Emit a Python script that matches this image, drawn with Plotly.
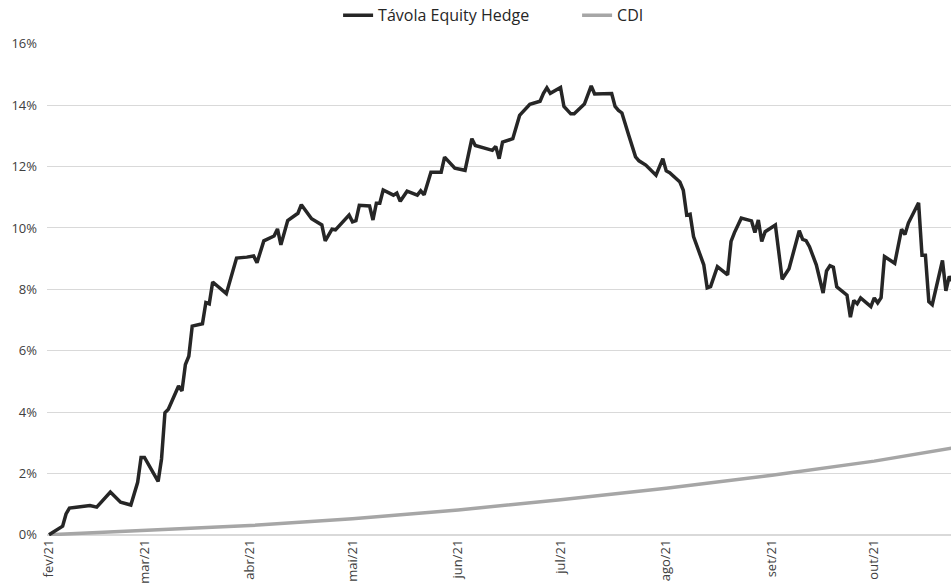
import plotly.graph_objects as go

# Távola Equity Hedge – cumulative return (vertices)
tavola_dates = [
    "2021-02-01", "2021-02-03", "2021-02-05", "2021-02-06", "2021-02-07", "2021-02-09",
    "2021-02-13", "2021-02-15", "2021-02-19", "2021-02-22", "2021-02-25", "2021-02-27",
    "2021-02-28", "2021-03-01", "2021-03-05", "2021-03-06", "2021-03-07", "2021-03-08",
    "2021-03-11", "2021-03-12", "2021-03-13", "2021-03-14", "2021-03-15", "2021-03-18",
    "2021-03-19", "2021-03-20", "2021-03-21", "2021-03-25", "2021-03-28", "2021-03-31",
    "2021-04-02", "2021-04-03", "2021-04-05", "2021-04-08", "2021-04-09", "2021-04-10",
    "2021-04-12", "2021-04-15", "2021-04-16", "2021-04-19", "2021-04-22", "2021-04-23",
    "2021-04-25", "2021-04-26", "2021-04-30", "2021-05-01", "2021-05-02", "2021-05-03",
    "2021-05-06", "2021-05-07", "2021-05-08", "2021-05-09", "2021-05-10", "2021-05-13",
    "2021-05-14", "2021-05-15", "2021-05-17", "2021-05-20", "2021-05-21", "2021-05-22",
    "2021-05-24", "2021-05-27", "2021-05-28", "2021-05-31", "2021-06-03", "2021-06-05",
    "2021-06-06", "2021-06-11", "2021-06-12", "2021-06-13", "2021-06-14", "2021-06-17",
    "2021-06-19", "2021-06-22", "2021-06-25", "2021-06-26", "2021-06-27", "2021-06-28",
    "2021-07-01", "2021-07-02", "2021-07-04", "2021-07-05", "2021-07-08", "2021-07-10",
    "2021-07-11", "2021-07-16", "2021-07-17", "2021-07-18", "2021-07-19", "2021-07-21",
    "2021-07-23", "2021-07-24", "2021-07-26", "2021-07-29", "2021-07-31", "2021-08-01",
    "2021-08-02", "2021-08-05", "2021-08-06", "2021-08-07", "2021-08-08", "2021-08-09",
    "2021-08-12", "2021-08-13", "2021-08-14", "2021-08-16", "2021-08-19", "2021-08-20",
    "2021-08-21", "2021-08-23", "2021-08-26", "2021-08-27", "2021-08-28", "2021-08-29",
    "2021-08-30", "2021-09-02", "2021-09-04", "2021-09-06", "2021-09-09", "2021-09-10",
    "2021-09-11", "2021-09-12", "2021-09-14", "2021-09-16", "2021-09-17", "2021-09-18",
    "2021-09-19", "2021-09-20", "2021-09-23", "2021-09-24", "2021-09-25", "2021-09-26",
    "2021-09-27", "2021-09-30", "2021-10-01", "2021-10-02", "2021-10-03", "2021-10-04",
    "2021-10-07", "2021-10-09", "2021-10-10", "2021-10-11", "2021-10-14", "2021-10-15",
    "2021-10-16", "2021-10-17", "2021-10-18", "2021-10-21", "2021-10-22", "2021-10-23",
    "2021-10-24",
]
tavola_pct = [
    0.00, 0.14, 0.28, 0.68, 0.87, 0.90,
    0.95, 0.90, 1.39, 1.06, 0.97, 1.71,
    2.52, 2.52, 1.74, 2.47, 3.98, 4.09,
    4.85, 4.69, 5.55, 5.82, 6.80, 6.88,
    7.57, 7.53, 8.24, 7.86, 9.02, 9.05,
    9.09, 8.87, 9.58, 9.74, 9.97, 9.45,
    10.24, 10.48, 10.76, 10.30, 10.10, 9.58,
    9.96, 9.94, 10.42, 10.20, 10.24, 10.74,
    10.72, 10.26, 10.81, 10.81, 11.24, 11.07,
    11.14, 10.87, 11.20, 11.07, 11.21, 11.08,
    11.82, 11.82, 12.31, 11.95, 11.88, 12.91,
    12.69, 12.53, 12.66, 12.26, 12.80, 12.91,
    13.67, 14.03, 14.13, 14.39, 14.57, 14.39,
    14.58, 13.96, 13.72, 13.72, 14.04, 14.63,
    14.37, 14.38, 13.96, 13.83, 13.75, 13.02,
    12.32, 12.19, 12.05, 11.72, 12.26, 11.86,
    11.80, 11.50, 11.23, 10.42, 10.45, 9.72,
    8.80, 8.05, 8.09, 8.74, 8.47, 9.56,
    9.85, 10.32, 10.23, 9.85, 10.26, 9.56,
    9.88, 10.10, 8.33, 8.67, 9.91, 9.63,
    9.59, 9.39, 8.80, 7.88, 8.60, 8.77,
    8.72, 8.08, 7.81, 7.09, 7.64, 7.53,
    7.72, 7.44, 7.72, 7.56, 7.73, 9.07,
    8.85, 9.96, 9.79, 10.16, 10.82, 9.11,
    9.11, 7.60, 7.50, 8.94, 7.95, 8.42,
    8.25,
]

# CDI – cumulative return
cdi_dates = ["2021-02-01", "2021-03-01", "2021-04-01", "2021-05-01", "2021-06-01",
             "2021-07-01", "2021-08-01", "2021-09-01", "2021-10-01", "2021-10-24"]
cdi_pct = [0.00, 0.13, 0.30, 0.52, 0.81, 1.14, 1.52, 1.94, 2.40, 2.83]

tick_dates = ["2021-02-01", "2021-03-01", "2021-04-01", "2021-05-01", "2021-06-01",
              "2021-07-01", "2021-08-01", "2021-09-01", "2021-10-01"]
tick_labels = ["fev/21", "mar/21", "abr/21", "mai/21", "jun/21",
               "jul/21", "ago/21", "set/21", "out/21"]

y_ticks = [0, 0.02, 0.04, 0.06, 0.08, 0.10, 0.12, 0.14, 0.16]
y_labels = ["0%", "2%", "4%", "6%", "8%", "10%", "12%", "14%", "16%"]

fig = go.Figure()
fig.add_trace(go.Scatter(
    x=tavola_dates, y=[v / 100 for v in tavola_pct], name="Távola Equity Hedge",
    mode="lines", line=dict(color="#262626", width=3.5),
))
fig.add_trace(go.Scatter(
    x=cdi_dates, y=[v / 100 for v in cdi_pct], name="CDI", mode="lines",
    line=dict(color="#a6a6a6", width=3.5),
))
# draw the fund line above CDI
fig.data = (fig.data[1], fig.data[0])

fig.update_layout(
    width=951, height=586,
    margin=dict(l=47, r=0, t=43, b=50),
    plot_bgcolor="white", paper_bgcolor="white",
    font=dict(family="Open Sans", size=13, color="#404040"),
    showlegend=True,
    legend=dict(orientation="h", x=0.322, xanchor="left", y=0.974, yanchor="middle",
                yref="container", font=dict(size=16, color="#262626"),
                itemwidth=30, traceorder="reversed",
                entrywidth=194, entrywidthmode="pixels"),
    xaxis=dict(
        type="date", range=["2021-01-31 10:00", "2021-10-23 12:00"],
        tickmode="array", tickvals=tick_dates, ticktext=tick_labels,
        tickangle=-90, showgrid=False, showline=False, zeroline=False,
        ticks="", automargin=False, tickfont=dict(size=13, color="#404040"),
    ),
    yaxis=dict(
        range=[-0.0004, 0.1603], tickmode="array", tickvals=y_ticks, ticktext=y_labels,
        showgrid=True, gridcolor="#d9d9d9", gridwidth=1,
        zeroline=True, zerolinecolor="#d9d9d9", zerolinewidth=2,
        showline=False, ticks="", automargin=False, ticklabelstandoff=9,
        tickfont=dict(size=13, color="#404040"),
    ),
)

fig.write_html(
    "out.html",
    config={"displayModeBar": False},
    post_script="document.body.style.margin='0';document.body.style.overflow='hidden';",
)
